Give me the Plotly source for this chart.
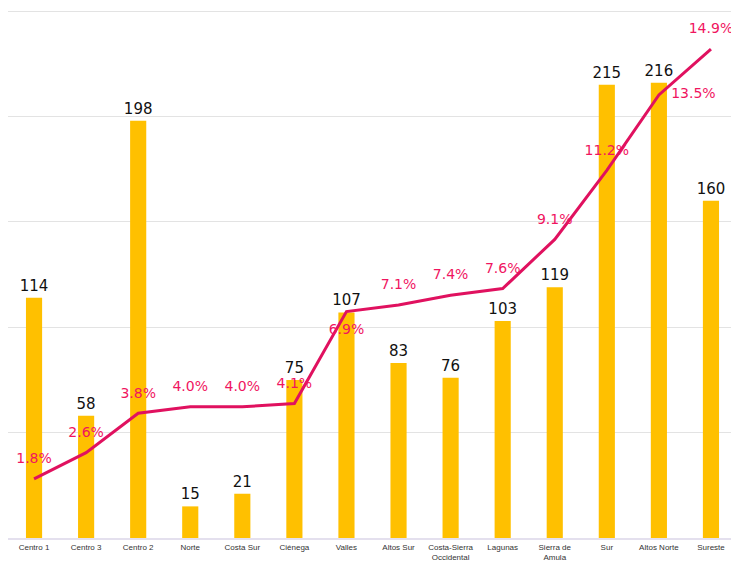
import plotly.graph_objects as go

categories = ["Centro 1", "Centro 3", "Centro 2", "Norte", "Costa Sur", "Ciénega", "Valles",
              "Altos Sur", "Costa-Sierra<br>Occidental", "Lagunas", "Sierra de<br>Amula", "Sur",
              "Altos Norte", "Sureste"]
bar_values = [114, 58, 198, 15, 21, 75, 107, 83, 76, 103, 119, 215, 216, 160]
pct_values = [1.8, 2.6, 3.8, 4.0, 4.0, 4.1, 6.9, 7.1, 7.4, 7.6, 9.1, 11.2, 13.5, 14.9]
pct_positions = ["top center"] * 6 + ["bottom center"] + ["top center"] * 5 + ["middle right", "top center"]

fig = go.Figure()
fig.add_trace(go.Bar(
    x=categories, y=bar_values, width=0.31,
    marker=dict(color="#FFC000", line=dict(width=0)),
    text=[str(v) for v in bar_values], textposition="outside", constraintext="none",
    textfont=dict(family="DejaVu Sans", size=15, color="#111111"),
    cliponaxis=False, yaxis="y",
))
fig.add_trace(go.Scatter(
    x=categories, y=pct_values, mode="lines+markers+text",
    line=dict(color="#E0115F", width=3),
    marker=dict(size=18, color="rgba(0,0,0,0)"),
    text=[f"{v:.1f}%" for v in pct_values], textposition=pct_positions,
    textfont=dict(family="DejaVu Sans", size=14, color="#F0155F"),
    cliponaxis=False, yaxis="y2",
))
fig.update_layout(
    width=731, height=554,
    margin=dict(l=0, r=2, t=2, b=24, autoexpand=False),
    plot_bgcolor="white", paper_bgcolor="white",
    showlegend=False, bargap=0.2,
    xaxis=dict(range=[-0.5, len(categories) - 0.5], showgrid=False,
               tickfont=dict(family="Liberation Sans", size=8, color="#333333"),
               showline=True, linecolor="#E4E0EE", linewidth=2, ticks="", automargin=False,
               tickangle=0),
    yaxis=dict(range=[0, 250.5], dtick=50, showgrid=True, gridcolor="#E3E3E3", gridwidth=1,
               showticklabels=False, zeroline=False),
    yaxis2=dict(range=[0, 16.09], overlaying="y", showgrid=False, showticklabels=False,
                zeroline=False),
)
fig.write_html("out.html")
